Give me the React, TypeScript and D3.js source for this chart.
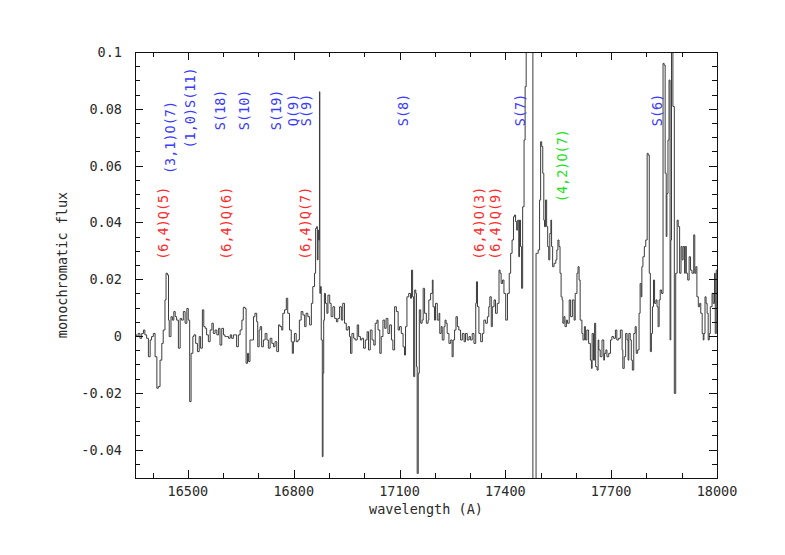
import * as d3 from "d3";
import React from "react";

// wavelength (A), monochromatic flux
const spectrum: [number, number][] = [
  [16350, 0.0004], [16355, -0.0002], [16359, 0.0009], [16364, -0.0008], [16369, 0.0009], [16374, 0.0021],
  [16378, 0.0004], [16383, -0.0008], [16388, -0.0073], [16393, -0.0014], [16397, -0.0002], [16402, 0.0009],
  [16407, -0.0073], [16412, -0.0184], [16416, -0.0178], [16421, -0.0085], [16426, -0.0026], [16430, 0.0021],
  [16435, 0.0127], [16438, 0.0221], [16442, 0.0215], [16445, 0.0056], [16447, -0.0002], [16452, 0.0068],
  [16456, 0.0056], [16460, 0.0086], [16464, 0.0068], [16468, 0.0056], [16473, -0.0043], [16478, 0.0062],
  [16482, 0.0056], [16487, 0.0086], [16492, 0.0045], [16497, 0.0097], [16501, 0.0056], [16505, -0.0231],
  [16509, -0.0061], [16514, -0.0002], [16517, 0.0004], [16522, -0.0026], [16527, -0.0055], [16532, -0.0002],
  [16536, -0.0043], [16541, 0.0092], [16545, 0.0033], [16549, 0.0027], [16553, 0.0004], [16558, -0.002],
  [16563, 0.0021], [16568, 0.0045], [16572, 0.0009], [16577, 0.0021], [16582, 0.0004], [16587, 0.0027],
  [16591, -0.0032], [16596, 0.0027], [16601, 0.0004], [16605, -0.0002], [16610, -0.0002], [16615, -0.0008],
  [16620, 0.0004], [16624, -0.0008], [16629, 0.0004], [16634, 0.0004], [16638, -0.0038], [16643, 0.0004],
  [16648, 0.0021], [16653, 0.0056], [16657, 0.0101], [16662, 0.0097], [16665, -0.0096], [16669, -0.0061],
  [16672, -0.009], [16676, -0.0014], [16681, -0.0014], [16686, 0.0068], [16690, 0.008], [16695, 0.005],
  [16698, -0.0038], [16702, 0.0021], [16705, 0.0033], [16709, -0.0038], [16714, -0.0014], [16719, 0.0009],
  [16724, -0.0014], [16728, -0.0043], [16733, -0.0008], [16738, -0.0026], [16743, -0.0038], [16747, -0.002],
  [16752, -0.0055], [16757, 0.0039], [16761, 0.0033], [16766, 0.0021],
  [16769, 0.008], [16774, 0.0092], [16779, 0.0133], [16783, 0.008], [16788, 0.0021], [16793, -0.002],
  [16796, -0.0061], [16799, -0.002], [16802, 0.0009], [16807, -0.002], [16812, -0.0014], [16816, 0.0056],
  [16821, 0.0086], [16826, 0.0074], [16831, 0.0033], [16835, 0.008], [16840, 0.0068], [16845, 0.0039],
  [16850, 0.0115], [16854, 0.0174], [16859, 0.0221], [16862, 0.0379], [16865, 0.0385], [16867, 0.0268],
  [16869, 0.0373], [16870, 0.0338], [16873, 0.086], [16874, 0.015], [16876, 0.0174], [16878, -0.0014],
  [16881, -0.0425], [16883, -0.0131], [16885, 0.0056], [16887, 0.015], [16890, 0.0115], [16894, 0.008],
  [16897, 0.0144], [16902, 0.0115], [16906, 0.0068], [16911, 0.0103], [16916, 0.0062], [16921, 0.005],
  [16925, 0.0062], [16930, 0.0103], [16935, 0.0056], [16939, 0.0115], [16944, 0.0045], [16949, 0.0021],
  [16954, 0.0033], [16958, -0.0002], [16961, -0.0061], [16965, 0.0009], [16970, -0.0008], [16974, -0.0014],
  [16980, 0.0039], [16984, -0.0002], [16989, -0.0014], [16993, -0.0008], [16998, -0.0043], [17003, -0.0014],
  [17008, 0.0015], [17012, -0.0049], [17017, 0.0021], [17022, -0.0014], [17027, -0.0032], [17031, 0.0045],
  [17036, 0.0056], [17039, 0.0021], [17044, -0.0061], [17048, -0.0002], [17053, 0.0056], [17058, 0.0027],
  [17062, 0.0062], [17067, 0.0009], [17072, 0.0039], [17077, -0.0014], [17081, -0.0049], [17086, 0.0103],
  [17091, 0.0086], [17096, 0.0021], [17100, 0.0033], [17105, 0.0009], [17110, -0.0038], [17114, -0.0067],
  [17117, 0.0033], [17121, 0.0138], [17126, 0.015], [17131, 0.0133], [17134, 0.0232], [17137, 0.0138],
  [17140, -0.0143], [17143, 0.0162], [17146, 0.015], [17148, -0.0108], [17150, -0.0484], [17153, -0.0131],
  [17156, 0.0092], [17160, 0.0045], [17164, 0.0056], [17167, 0.0168], [17171, 0.008], [17176, 0.0045],
  [17181, 0.0056],
  [17183, 0.0127], [17188, 0.015], [17193, 0.0197], [17195, 0.0103], [17199, 0.0056], [17202, 0.0115],
  [17207, 0.0056], [17212, 0.008], [17214, 0.0009], [17218, 0.0033], [17221, -0.0014], [17226, 0.0033],
  [17229, 0.0056], [17232, 0.0045], [17235, 0.0009], [17240, -0.0026], [17245, -0.0014], [17249, -0.0073],
  [17252, -0.0014], [17256, 0.0021], [17260, 0.0068], [17264, 0.0033], [17268, 0.0021], [17273, -0.0014],
  [17278, 0.0009], [17283, -0.002], [17287, 0.0009], [17292, -0.0014], [17297, -0.0002], [17301, -0.0014],
  [17306, 0.0009], [17311, -0.0026], [17316, 0.0115], [17318, 0.0191], [17321, 0.0103], [17325, 0.0009],
  [17330, -0.002], [17335, 0.0009], [17339, 0.0056], [17344, 0.0045], [17349, 0.0068], [17353, 0.0103],
  [17356, 0.0138], [17360, 0.0033], [17363, 0.0103], [17368, 0.0127], [17372, 0.008], [17377, 0.0115],
  [17382, 0.0232], [17385, 0.0221], [17388, 0.0185], [17392, 0.0197], [17396, 0.015], [17401, 0.0056],
  [17406, 0.015], [17411, 0.0221], [17415, 0.0291], [17419, 0.0338], [17423, 0.042], [17426, 0.0426],
  [17429, 0.0403], [17432, 0.0373], [17435, 0.0408], [17438, 0.0279], [17440, 0.0408], [17443, 0.0315],
  [17446, 0.0168], [17449, 0.0455], [17453, 0.069], [17456, 0.0878], [17459, 0.2], [17478, -0.1],
  [17487, 0.0291], [17491, 0.0291], [17493, 0.0303], [17497, 0.0479], [17500, 0.0684], [17503, 0.0667],
  [17506, 0.0573], [17509, 0.0408], [17511, 0.0385], [17514, 0.0479], [17517, 0.0385], [17520, 0.0315],
  [17523, 0.0268], [17526, 0.0361], [17529, 0.0408], [17531, 0.0315], [17534, 0.0244], [17538, 0.0256],
  [17543, 0.0268], [17546, 0.0303], [17549, 0.0338], [17552, 0.0315], [17555, 0.0221], [17558, 0.0138],
  [17561, 0.0127], [17563, 0.0045], [17566, 0.0068], [17569, 0.0033], [17573, 0.0056], [17576, 0.0045],
  [17581, 0.0127], [17585, 0.0068], [17590, 0.0127], [17595, 0.0056],
  [17598, 0.015], [17603, 0.0221], [17606, 0.0244], [17609, 0.0197], [17612, 0.0056], [17617, 0.0009],
  [17620, -0.0014], [17624, 0.0033], [17627, -0.0014], [17631, 0.0021], [17636, -0.0026], [17641, -0.0085],
  [17644, -0.0114], [17646, 0.0009], [17650, -0.0085], [17653, 0.0045], [17656, -0.0108], [17660, -0.012],
  [17663, -0.0014], [17665, -0.0049], [17669, -0.0073], [17674, -0.0014], [17679, -0.0085], [17681, -0.0061],
  [17685, -0.0049], [17688, -0.0073], [17693, -0.0061], [17698, -0.0014], [17702, -0.0002], [17707, -0.0008],
  [17712, 0.0021], [17716, -0.0014], [17721, -0.0008], [17726, 0.0021], [17731, -0.0049], [17733, -0.0114],
  [17737, -0.0073], [17741, 0.0009], [17745, -0.0014], [17748, -0.0085], [17750, 0.0009], [17754, -0.0014],
  [17757, -0.0085], [17760, -0.012], [17764, 0.0009], [17768, 0.0033], [17771, -0.0061], [17775, -0.0049],
  [17779, 0.008], [17782, 0.0185], [17785, 0.0138], [17787, 0.0244], [17790, 0.0279], [17794, 0.0315],
  [17798, 0.0338], [17802, 0.0643], [17805, 0.0637], [17808, 0.0221], [17811, -0.0055], [17814, 0.0009],
  [17817, 0.0103], [17820, 0.0197], [17823, 0.0115], [17827, 0.0127], [17830, 0.0103], [17833, 0.0033],
  [17836, 0.0127], [17839, 0.0162], [17843, 0.015], [17847, 0.096], [17850, 0.0954], [17853, 0.0573],
  [17856, 0.035], [17858, 0.0502], [17861, 0.069], [17864, 0.0901], [17867, -0.0014], [17869, 0.0338],
  [17871, 0.12], [17875, 0.0808], [17879, -0.0202], [17883, 0.0221], [17887, 0.0408], [17890, 0.0385],
  [17894, 0.0221], [17898, 0.0315], [17901, 0.0268], [17904, 0.0315], [17908, 0.0221], [17910, 0.0315],
  [17913, 0.0221], [17917, 0.0197], [17921, 0.0279], [17925, 0.0232], [17929, 0.0221], [17934, 0.0356],
  [17937, 0.0221], [17940, 0.0244], [17943, 0.0138], [17947, 0.0103], [17951, 0.0115], [17954, 0.008],
  [17958, 0.0009], [17961, -0.0014], [17963, 0.0009], [17966, 0.0138], [17969, 0.0115], [17972, 0.008],
  [17975, -0.0014], [17978, 0.0009], [17981, 0.0103], [17986, 0.015], [17989, 0.0115], [17993, 0.0221],
  [17995, 0.0009], [17998, 0.0232], [18000, 0.0232],
];

const xTickValues = [16500, 16800, 17100, 17400, 17700, 18000];
const xTickLabels = ["16500", "16800", "17100", "17400", "17700", "18000"];
const yTickValues = [-0.04, -0.02, 0, 0.02, 0.04, 0.06, 0.08, 0.1];
const yTickLabels = ["-0.04", "-0.02", "0", "0.02", "0.04", "0.06", "0.08", "0.1"];

// line identifications: text, wavelength, flux at label centre, band
const lineNames = [
  "(6,4)Q(5)", "(6,4)Q(6)", "(6,4)Q(7)", "(6,4)O(3)", "(6,4)Q(9)",
  "(3,1)O(7)", "(1,0)S(11)", "S(18)", "S(10)", "S(19)", "Q(9)", "S(9)", "S(8)", "S(7)", "S(6)",
  "(4,2)O(7)",
];
const lineWaves = [16430, 16609, 16832, 17326, 17371, 16450, 16505, 16590, 16659, 16751, 16798, 16836, 17111, 17442, 17831, 17560];
const lineFlux = [0.0397, 0.0397, 0.0397, 0.0397, 0.0397, 0.0699, 0.0803, 0.0796, 0.0796, 0.0796, 0.0796, 0.0796, 0.0796, 0.0796, 0.0796, 0.06];
const lineBand = ["64", "64", "64", "64", "64", "h2", "h2", "h2", "h2", "h2", "h2", "h2", "h2", "h2", "h2", "42"];

const bandColor: Record<string, string> = { "64": "#ff2a2a", h2: "#3a3aff", "42": "#22e022" };

const WIDTH = 785;
const HEIGHT = 555;
const margin = { top: 52, right: 68, bottom: 77, left: 135 };
const FONT = "'DejaVu Sans Mono', monospace";

export default function App() {
  const svgRef = React.useRef<SVGSVGElement>(null);

  React.useEffect(() => {
    if (!svgRef.current) return;
    const svg = d3.select(svgRef.current);
    svg.selectAll("*").remove();

    const x0 = margin.left;
    const x1 = WIDTH - margin.right;
    const y0 = HEIGHT - margin.bottom;
    const y1 = margin.top;

    const x = d3.scaleLinear().domain([16350, 18000]).range([x0, x1]);
    const y = d3.scaleLinear().domain([-0.05, 0.1]).range([y0, y1]);

    svg.append("rect").attr("width", WIDTH).attr("height", HEIGHT).attr("fill", "#fff");

    const defs = svg.append("defs");
    defs
      .append("clipPath")
      .attr("id", "plotclip")
      .append("rect")
      .attr("x", x0)
      .attr("y", y1)
      .attr("width", x1 - x0)
      .attr("height", y0 - y1);

    // spectrum as a histogram
    const line = d3
      .line<[number, number]>()
      .x((d) => x(d[0]))
      .y((d) => y(d[1]))
      .curve(d3.curveStepAfter);

    svg
      .append("path")
      .datum(spectrum)
      .attr("clip-path", "url(#plotclip)")
      .attr("fill", "none")
      .attr("stroke", "#3c3c3c")
      .attr("stroke-width", 1)
      .attr("d", line);

    // frame
    const axes = svg.append("g").attr("stroke", "#111").attr("stroke-width", 1).attr("fill", "none");
    axes
      .append("rect")
      .attr("x", x0 + 0.5)
      .attr("y", y1 + 0.5)
      .attr("width", x1 - x0)
      .attr("height", y0 - y1);

    const xMinor = d3.range(16400, 18000, 100).filter((v) => v % 300 !== 0);
    const yMinor = d3.range(-0.045, 0.1, 0.005).filter((v) => Math.abs(v / 0.02 - Math.round(v / 0.02)) > 1e-6);

    const xt = (v: number) => Math.round(x(v)) + 0.5;
    const yt = (v: number) => Math.round(y(v)) + 0.5;

    const addX = (vals: number[], len: number) => {
      vals.forEach((v) => {
        axes.append("line").attr("x1", xt(v)).attr("x2", xt(v)).attr("y1", y0).attr("y2", y0 - len);
        axes.append("line").attr("x1", xt(v)).attr("x2", xt(v)).attr("y1", y1).attr("y2", y1 + len);
      });
    };
    const addY = (vals: number[], len: number) => {
      vals.forEach((v) => {
        axes.append("line").attr("x1", x0).attr("x2", x0 + len).attr("y1", yt(v)).attr("y2", yt(v));
        axes.append("line").attr("x1", x1).attr("x2", x1 - len).attr("y1", yt(v)).attr("y2", yt(v));
      });
    };
    addX(xTickValues, 8);
    addX(xMinor, 5);
    addY(yTickValues, 8);
    addY(yMinor, 5);

    const text = svg.append("g").attr("font-family", FONT).attr("font-size", 13.5).attr("fill", "#2a2a2a");

    text
      .selectAll("text.xt")
      .data(xTickValues)
      .enter()
      .append("text")
      .attr("x", (d) => x(d))
      .attr("y", 496)
      .attr("text-anchor", "middle")
      .text((d, i) => xTickLabels[i]);

    text
      .selectAll("text.yt")
      .data(yTickValues)
      .enter()
      .append("text")
      .attr("x", 122)
      .attr("y", (d) => y(d) + 5)
      .attr("text-anchor", "end")
      .text((d, i) => yTickLabels[i]);

    text
      .append("text")
      .attr("x", (x0 + x1) / 2)
      .attr("y", 514)
      .attr("text-anchor", "middle")
      .text("wavelength (A)");

    text
      .append("text")
      .attr("transform", `translate(62,${(y0 + y1) / 2}) rotate(-90)`)
      .attr("text-anchor", "middle")
      .attr("dominant-baseline", "central")
      .text("monochromatic flux");

    // line identifications
    svg
      .append("g")
      .attr("font-family", FONT)
      .attr("font-size", 13.5)
      .selectAll("text")
      .data(lineNames)
      .enter()
      .append("text")
      .attr("transform", (d, i) => `translate(${x(lineWaves[i])},${y(lineFlux[i])}) rotate(-90)`)
      .attr("text-anchor", "middle")
      .attr("dominant-baseline", "central")
      .attr("fill", (d, i) => bandColor[lineBand[i]])
      .text((d) => d);
  }, []);

  return (
    <svg
      ref={svgRef}
      width={WIDTH}
      height={HEIGHT}
      style={{ position: "absolute", left: 0, top: 0, display: "block" }}
    />
  );
}
